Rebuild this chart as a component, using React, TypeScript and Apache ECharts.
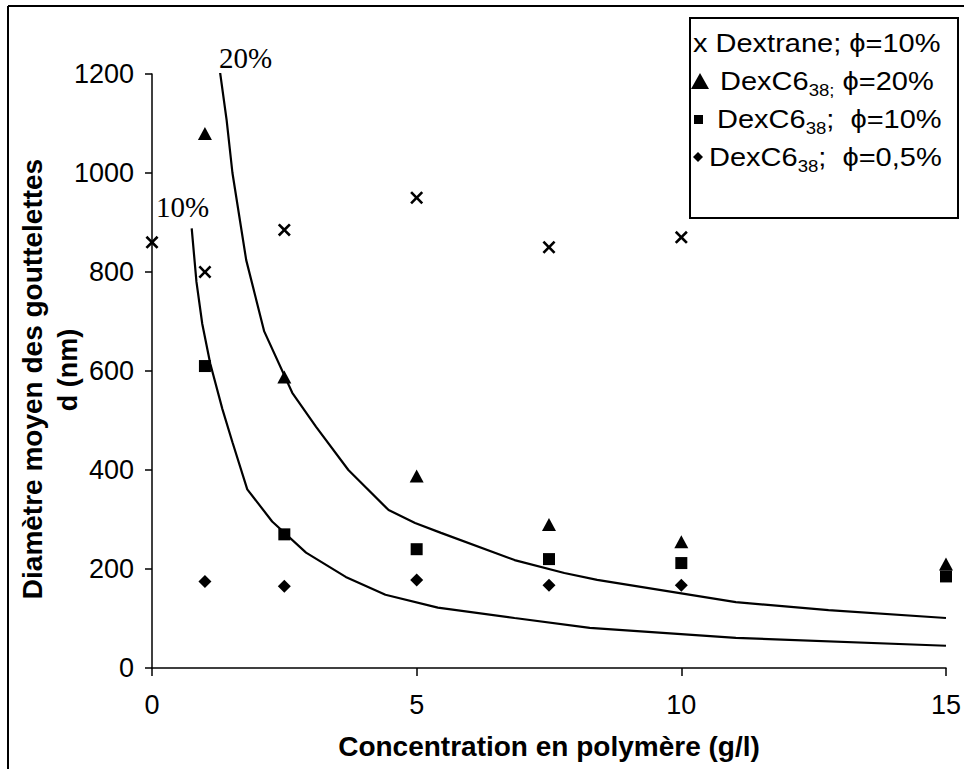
import React, { useEffect, useRef } from "react";
import * as echarts from "echarts";

// Dextrane; phi = 10 %
const dextraneX = [0, 1, 2.5, 5, 7.5, 10];
const dextraneY = [860, 800, 885, 950, 850, 870];
// DexC6_38; phi = 20 %
const tri20X = [1, 2.5, 5, 7.5, 10, 15];
const tri20Y = [1080, 588, 388, 290, 255, 210];
// DexC6_38; phi = 10 %
const sq10X = [1, 2.5, 5, 7.5, 10, 15];
const sq10Y = [610, 270, 240, 220, 212, 185];
// DexC6_38; phi = 0,5 %
const dia05X = [1, 2.5, 5, 7.5, 10];
const dia05Y = [175, 165, 178, 167, 167];
// fitted curve 20 %
const curve20X = [1.28, 1.41, 1.52, 1.78, 2.12, 2.65, 3.1, 3.71, 4.47, 4.97, 5.46, 6.85, 7.79, 8.41, 11.03, 12.78, 15];
const curve20Y = [1208, 1107, 1000, 824, 680, 556, 487, 400, 319, 293, 273, 218, 192, 178, 133, 117, 101];
// fitted curve 10 %
const curve10X = [0.75, 0.84, 0.95, 1.1, 1.33, 1.52, 1.8, 2.27, 2.91, 3.66, 4.41, 5.4, 6.85, 8.27, 11.03, 15];
const curve10Y = [888, 780, 695, 615, 523, 456, 361, 296, 233, 184, 148, 122, 101, 81, 61, 45];

const xTicks = { min: 0, max: 15, interval: 5 };
const yTicks = { min: 0, max: 1200, interval: 200 };

const zip = (xs: number[], ys: number[]) => xs.map((x, i) => [x, ys[i]]);

const SANS = "'Liberation Sans', Arial, sans-serif";
const SERIF = "'Liberation Serif', 'Times New Roman', serif";

const crossPath =
  "path://M0,2L2,0L7,5L12,0L14,2L9,7L14,12L12,14L7,9L2,14L0,12L5,7Z";

export default function App() {
  const ref = useRef<HTMLDivElement>(null);
  useEffect(() => {
    if (!ref.current) return;
    const chart = echarts.init(ref.current, null, { renderer: "svg" });
    const legendRich = {
      m: { fontSize: 25, fontFamily: SANS, color: "#000", lineHeight: 34, verticalAlign: "middle" },
      sub: { fontSize: 16, fontFamily: SANS, color: "#000", verticalAlign: "bottom" },
    };
    const LSX = 1.16;
    chart.setOption({
      animation: false,
      backgroundColor: "#fff",
      grid: { left: 152, right: 12, top: 74, bottom: 101, containLabel: false },
      xAxis: {
        type: "value",
        ...xTicks,
        name: "Concentration en polymère (g/l)",
        nameLocation: "middle",
        nameGap: 64,
        nameTextStyle: { fontSize: 28, fontWeight: "bold", fontFamily: SANS, color: "#000" },
        axisLine: { show: true, onZero: false, lineStyle: { color: "#000", width: 1.5 } },
        axisTick: { show: true, length: 8, lineStyle: { color: "#000", width: 1.5 } },
        axisLabel: { fontSize: 27, fontFamily: SANS, color: "#000", margin: 23 },
        splitLine: { show: false },
      },
      yAxis: {
        type: "value",
        ...yTicks,
        axisLine: { show: true, lineStyle: { color: "#000", width: 1.5 } },
        axisTick: { show: true, length: 7, lineStyle: { color: "#000", width: 1.5 } },
        axisLabel: {
          fontSize: 27,
          fontFamily: SANS,
          color: "#000",
          margin: 18,
          formatter: (v: number) => String(v),
        },
        splitLine: { show: false },
      },
      series: [
        {
          name: "curve20",
          type: "line",
          data: zip(curve20X, curve20Y),
          showSymbol: false,
          symbol: "none",
          lineStyle: { color: "#000", width: 2.2 },
          z: 2,
        },
        {
          name: "curve10",
          type: "line",
          data: zip(curve10X, curve10Y),
          showSymbol: false,
          symbol: "none",
          lineStyle: { color: "#000", width: 2.2 },
          z: 2,
        },
        {
          name: "Dextrane; ϕ=10%",
          type: "scatter",
          data: zip(dextraneX, dextraneY),
          symbol: crossPath,
          symbolSize: 13,
          itemStyle: { color: "#000", opacity: 1 },
          z: 3,
        },
        {
          name: "DexC6 38; ϕ=20%",
          type: "scatter",
          data: zip(tri20X, tri20Y),
          symbol: "triangle",
          symbolSize: [14, 13],
          itemStyle: { color: "#000", opacity: 1 },
          z: 3,
        },
        {
          name: "DexC6 38; ϕ=10%",
          type: "scatter",
          data: zip(sq10X, sq10Y),
          symbol: "rect",
          symbolSize: 12,
          itemStyle: { color: "#000", opacity: 1 },
          z: 3,
        },
        {
          name: "DexC6 38; ϕ=0,5%",
          type: "scatter",
          data: zip(dia05X, dia05Y),
          symbol: "diamond",
          symbolSize: [13, 13],
          itemStyle: { color: "#000", opacity: 1 },
          z: 3,
        },
      ],
      graphic: [
        // chart area frame (top and left edges)
        { type: "line", shape: { x1: 8, y1: 6, x2: 964, y2: 6 }, style: { stroke: "#000", lineWidth: 2 } },
        { type: "line", shape: { x1: 8, y1: 6, x2: 8, y2: 769 }, style: { stroke: "#000", lineWidth: 2 } },
        // y axis title (two lines)
        {
          type: "text",
          x: 32,
          y: 379,
          rotation: Math.PI / 2,
          style: {
            text: "Diamètre moyen des gouttelettes",
            fontSize: 28,
            fontWeight: "bold",
            fontFamily: SANS,
            fill: "#000",
            align: "center",
            verticalAlign: "middle",
          },
        },
        {
          type: "text",
          x: 68,
          y: 370,
          rotation: Math.PI / 2,
          style: {
            text: "d (nm)",
            fontSize: 27,
            fontWeight: "bold",
            fontFamily: SANS,
            fill: "#000",
            align: "center",
            verticalAlign: "middle",
          },
        },
        // curve labels
        {
          type: "text",
          x: 219,
          y: 58,
          style: { text: "20%", fontSize: 29, fontFamily: SERIF, fill: "#000", align: "left", verticalAlign: "middle" },
        },
        {
          type: "text",
          x: 156,
          y: 207,
          style: { text: "10%", fontSize: 29, fontFamily: SERIF, fill: "#000", align: "left", verticalAlign: "middle" },
        },
        // legend box
        {
          type: "rect",
          shape: { x: 690, y: 18, width: 268, height: 200 },
          style: { fill: "#fff", stroke: "#000", lineWidth: 2 },
          z: 10,
        },
        {
          type: "text",
          x: 693,
          y: 43,
          z: 11,
          scaleX: LSX,
          style: { text: "{m|x Dextrane; ϕ=10%}", rich: legendRich, verticalAlign: "middle", align: "left" },
        },
        {
          type: "polygon",
          z: 11,
          shape: { points: [[700, 73], [709, 89], [691, 89]] },
          style: { fill: "#000" },
        },
        {
          type: "text",
          x: 720,
          y: 81,
          z: 11,
          scaleX: LSX,
          style: { text: "{m|DexC6}{sub|38;}{m| ϕ=20%}", rich: legendRich, verticalAlign: "middle", align: "left" },
        },
        {
          type: "rect",
          z: 11,
          shape: { x: 694, y: 115, width: 9, height: 9 },
          style: { fill: "#000" },
        },
        {
          type: "text",
          x: 717,
          y: 119,
          z: 11,
          scaleX: LSX,
          style: { text: "{m|DexC6}{sub|38}{m|;  ϕ=10%}", rich: legendRich, verticalAlign: "middle", align: "left" },
        },
        {
          type: "polygon",
          z: 11,
          shape: { points: [[698, 152], [703, 157], [698, 162], [693, 157]] },
          style: { fill: "#000" },
        },
        {
          type: "text",
          x: 709,
          y: 157,
          z: 11,
          scaleX: LSX,
          style: { text: "{m|DexC6}{sub|38}{m|;  ϕ=0,5%}", rich: legendRich, verticalAlign: "middle", align: "left" },
        },
      ],
    });
    return () => chart.dispose();
  }, []);
  return (
    <div
      ref={ref}
      style={{ position: "fixed", left: 0, top: 0, width: 964, height: 769, background: "#fff" }}
    />
  );
}
